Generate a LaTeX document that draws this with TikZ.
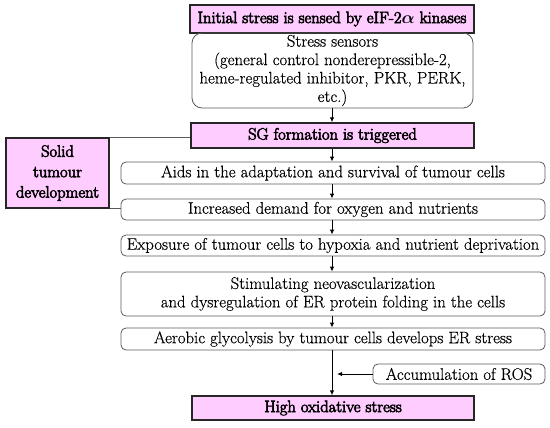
\documentclass[tikz,border=0pt]{standalone}
\usepackage{amsmath}
\usepackage{fontspec}
\setmainfont{Latin Modern Roman}[FakeBold=0.4]
\newfontfamily\heavy{Latin Modern Roman}[FakeBold=3.6]
\usetikzlibrary{arrows.meta}
\definecolor{pinkfill}{RGB}{255,204,255}
\definecolor{edgegray}{RGB}{90,90,90}
\begin{document}
\begin{tikzpicture}[x=1bp,y=-1bp,
  txt/.style={font=\fontsize{16.8}{18.5}\selectfont, align=center, inner sep=0pt},
  pinkbox/.style={txt, font=\fontsize{16.6}{19.5}\selectfont\heavy, draw=black!85, line width=1.3bp, fill=pinkfill},
  softbox/.style={txt, draw=edgegray, line width=0.8bp, rounded corners=5bp},
  arr/.style={-{Latex[length=5bp,width=4.5bp]}, line width=1bp, black},
  link/.style={draw=edgegray, line width=0.8bp}]
\useasboundingbox (0,0) rectangle (550,427);
\node[pinkbox, minimum width=284bp, minimum height=28bp] (top) at (332,19) {Initial stress is sensed by eIF-2$\boldsymbol{\alpha}$ kinases};
\node[softbox, rounded corners=10bp, minimum width=281bp, minimum height=75bp] (sens) at (332.5,70.5) {Stress sensors\\(general control nonderepressible-2,\\heme-regulated inhibitor, PKR, PERK,\\etc.)};
\node[pinkbox, minimum width=283bp, minimum height=25bp] (sg) at (332.5,135.5) {SG formation is triggered};
\node[softbox, minimum width=424bp, minimum height=22bp] (aids) at (333,173) {Aids in the adaptation and survival of tumour cells};
\node[softbox, minimum width=424bp, minimum height=21bp] (inc) at (333,209.5) {Increased demand for oxygen and nutrients};
\node[softbox, minimum width=424bp, minimum height=21bp] (exp) at (333,245.5) {Exposure of tumour cells to hypoxia and nutrient deprivation};
\node[softbox, minimum width=424bp, minimum height=44bp] (stim) at (333,294) {Stimulating neovascularization\\and dysregulation of ER protein folding in the cells};
\node[softbox, minimum width=424bp, minimum height=22bp] (aer) at (333,339) {Aerobic glycolysis by tumour cells develops ER stress};
\node[softbox, minimum width=172bp, minimum height=20bp] (acc) at (459,374) {Accumulation of ROS};
\node[pinkbox, minimum width=282bp, minimum height=24bp] (high) at (333,408) {High oxidative stress};
\node[pinkbox, font=\fontsize{16.6}{20.5}\selectfont\heavy, minimum width=103bp, minimum height=70bp] (solid) at (57.5,173) {Solid\\tumour\\development};
\coordinate (rosend) at (337,374);
\draw[arr] (sens.south -| top.south) -- (sg.north -| top.south);
\draw[arr] (sg.south -| top.south) -- (aids.north -| top.south);
\draw[arr] (aids.south -| top.south) -- (inc.north -| top.south);
\draw[arr] (inc.south -| top.south) -- (exp.north -| top.south);
\draw[arr] (exp.south -| top.south) -- (stim.north -| top.south);
\draw[arr] (stim.south -| top.south) -- (aer.north -| top.south);
\draw[arr] (aer.south -| top.south) -- (high.north -| top.south);
\draw[arr] (acc.west) -- (rosend);
\draw[link] (solid.north east) -- (solid.north east -| sg.west);
\draw[link] (solid.south east) -- (solid.south east -| inc.west);
\end{tikzpicture}
\end{document}
